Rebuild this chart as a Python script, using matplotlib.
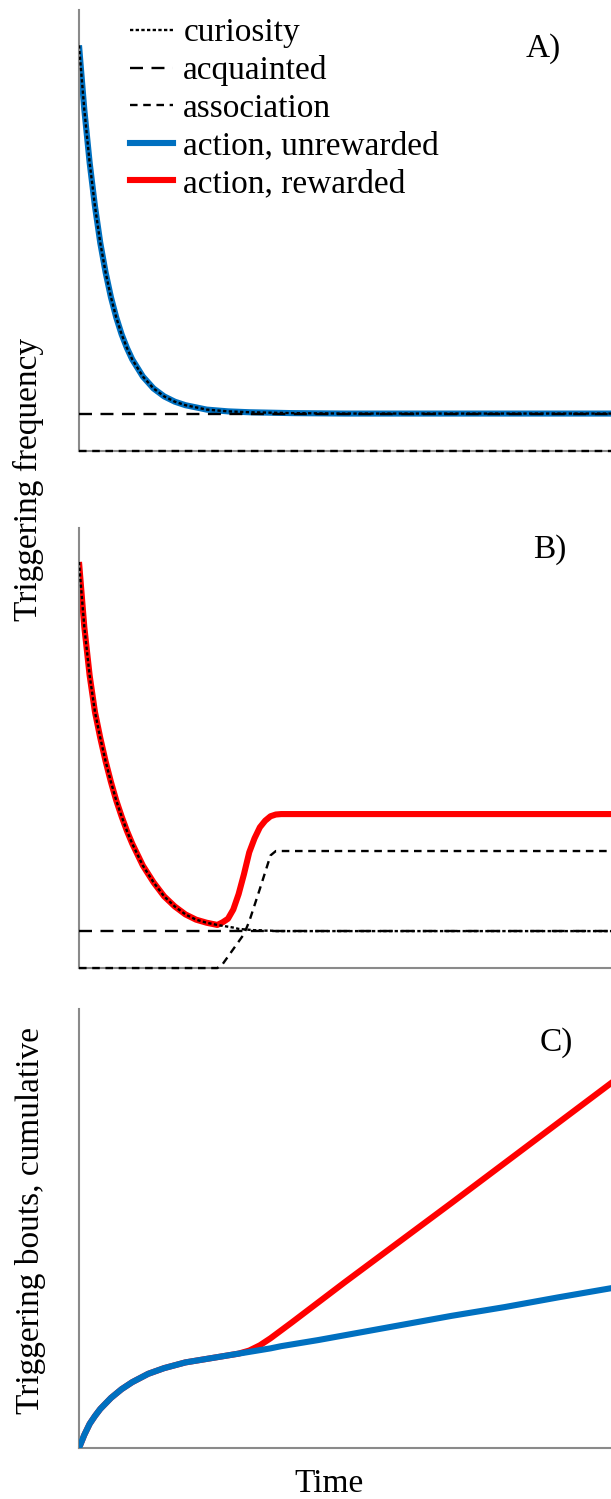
import matplotlib
matplotlib.use("Agg")
import matplotlib.pyplot as plt
from matplotlib.lines import Line2D

# panel A: unrewarded
t_a = [0, 1, 2, 3, 4, 5, 6, 7, 8, 9, 10, 12, 14, 16, 18, 20, 24, 28, 32, 40, 50, 60, 70, 80, 90, 100]
curiosity_a = [92.0, 77.4, 65.4, 55.5, 47.2, 40.5, 34.9, 30.3, 26.5, 23.4, 20.8, 16.9, 14.2, 12.4, 11.2,
               10.4, 9.4, 9.0, 8.8, 8.6, 8.5, 8.5, 8.5, 8.5, 8.5, 8.5]
acquainted_a = [8.4] * len(t_a)
association_a = [0.0] * len(t_a)
unrewarded_a = [92.0, 77.4, 65.4, 55.5, 47.2, 40.5, 34.9, 30.3, 26.5, 23.4, 20.8, 16.9, 14.2, 12.4, 11.2,
                10.4, 9.4, 9.0, 8.8, 8.6, 8.5, 8.5, 8.5, 8.5, 8.5, 8.5]

# panel B: rewarded
t_b = [0, 1, 2, 3, 4, 5, 6, 7, 8, 9, 10, 12, 14, 16, 18, 20, 22, 24,
       26, 27, 28, 29, 30, 31, 32, 33, 34, 35, 36, 37, 38, 40, 50, 60, 70, 80, 90, 100]
curiosity_b = [92.3, 77.5, 66.5, 58.2, 52.3, 47.0, 42.3, 38.1, 34.5, 31.2, 28.3, 23.3, 19.5, 16.3, 14.0, 12.2, 11.0, 10.3,
               9.8, 9.6, 9.4, 9.2, 8.9, 8.8, 8.7, 8.6, 8.6, 8.5, 8.5, 8.4, 8.4, 8.4, 8.4, 8.4, 8.4, 8.4, 8.4, 8.4]
acquainted_b = [8.4] * len(t_b)
association_b = [0, 0, 0, 0, 0, 0, 0, 0, 0, 0, 0, 0, 0, 0, 0, 0, 0, 0,
                 0, 0.9, 2.6, 4.3, 6.0, 7.7, 10.6, 14.3, 18.0, 21.8, 25.6, 26.6, 26.6, 26.6, 26.6, 26.6, 26.6, 26.6, 26.6, 26.6]
rewarded_b = [92.3, 77.5, 66.5, 58.2, 52.3, 47.0, 42.3, 38.1, 34.5, 31.2, 28.3, 23.3, 19.5, 16.3, 14.0, 12.2, 11.0, 10.3,
              9.8, 10.4, 11.2, 13.3, 16.8, 21.3, 26.3, 29.5, 32.0, 33.5, 34.5, 34.9, 35.0, 35.0, 35.0, 35.0, 35.0, 35.0, 35.0, 35.0]

# panel C: cumulative bouts
t_c = [0, 1, 2, 3, 4, 6, 8, 10, 13, 16, 20, 25, 30, 32, 34, 36, 38, 40, 45, 50, 60, 70, 80, 90, 100]
unrewarded_c = [0, 3.0, 5.5, 7.3, 8.9, 11.4, 13.4, 15.0, 16.9, 18.2, 19.5, 20.5, 21.5,
                21.9, 22.3, 22.7, 23.2, 23.6, 24.6, 25.7, 27.9, 30.1, 32.1, 34.3, 36.4]
rewarded_c = [0, 3.0, 5.5, 7.3, 8.9, 11.4, 13.4, 15.0, 16.9, 18.2, 19.5, 20.5, 21.5,
              22.2, 23.4, 25.0, 26.8, 28.6, 33.2, 37.8, 46.8, 55.8, 64.9, 74.0, 83.1]

labels = ["curiosity", "acquainted", "association", "action, unrewarded", "action, rewarded"]

plt.rcParams["font.family"] = "Liberation Serif"
plt.rcParams["font.size"] = 24

BLUE = "#0070C0"
RED = "#FF0000"
GREY = "#8a8a8a"
cur_ls = (0, (1.4, 1.0))
acq_ls = (0, (5.5, 3.6))
ass_ls = (0, (3.2, 2.4))

fig = plt.figure(figsize=(6.11, 14.99), dpi=100)
ax_a = fig.add_axes([0.1293, 0.6991, 0.8707, 0.2942])
ax_b = fig.add_axes([0.1293, 0.3542, 0.8707, 0.2935])
ax_c = fig.add_axes([0.1293, 0.0340, 0.8707, 0.2929])

for ax in (ax_a, ax_b, ax_c):
    ax.set_xlim(0, 100)
    ax.set_ylim(0, 100)
    ax.set_xticks([])
    ax.set_yticks([])
    ax.spines["top"].set_visible(False)
    ax.spines["right"].set_visible(False)
    ax.spines["left"].set_color(GREY)
    ax.spines["bottom"].set_color(GREY)
    ax.spines["left"].set_linewidth(1.5)
    ax.spines["bottom"].set_linewidth(1.5)

# A
ax_a.plot(t_a, unrewarded_a, color=BLUE, lw=4.4, solid_capstyle="butt", zorder=2)
ax_a.plot(t_a, acquainted_a, color="black", lw=1.7, ls=acq_ls, zorder=3)
ax_a.plot(t_a, association_a, color="black", lw=1.7, ls=ass_ls, zorder=3, clip_on=False)
ax_a.plot(t_a, curiosity_a, color="black", lw=1.7, ls=cur_ls, zorder=4)
ax_a.text(0.872, 0.894, "A)", transform=ax_a.transAxes, ha="center", va="baseline")

handles = [Line2D([], [], color="black", lw=1.7, ls=cur_ls),
           Line2D([], [], color="black", lw=1.7, ls=acq_ls),
           Line2D([], [], color="black", lw=1.7, ls=ass_ls),
           Line2D([], [], color=BLUE, lw=4.4),
           Line2D([], [], color=RED, lw=4.4)]
ax_a.legend(handles, labels, loc="upper left", bbox_to_anchor=(0.0959, 0.982), frameon=False,
            handlelength=1.3, handletextpad=0.3, labelspacing=0.21, borderpad=0, borderaxespad=0)

# B
ax_b.plot(t_b, rewarded_b, color=RED, lw=4.4, solid_capstyle="butt", zorder=2)
ax_b.plot(t_b, acquainted_b, color="black", lw=1.7, ls=acq_ls, zorder=3)
ax_b.plot(t_b, association_b, color="black", lw=1.7, ls=ass_ls, zorder=3, clip_on=False)
ax_b.plot(t_b, curiosity_b, color="black", lw=1.7, ls=cur_ls, zorder=4)
ax_b.text(0.885, 0.932, "B)", transform=ax_b.transAxes, ha="center", va="baseline")

# C
ax_c.plot(t_c, rewarded_c, color=RED, lw=4.4, zorder=2)
ax_c.plot(t_c, unrewarded_c, color=BLUE, lw=4.4, zorder=3)
ax_c.text(0.898, 0.905, "C)", transform=ax_c.transAxes, ha="center", va="baseline")

fig.text(0.047, 0.680, "Triggering frequency", rotation=90, ha="center", va="center")
fig.text(0.050, 0.186, "Triggering bouts, cumulative", rotation=90, ha="center", va="center")
fig.text(0.538, 0.0045, "Time", ha="center", va="baseline")

fig.savefig("out.png", dpi=100)
